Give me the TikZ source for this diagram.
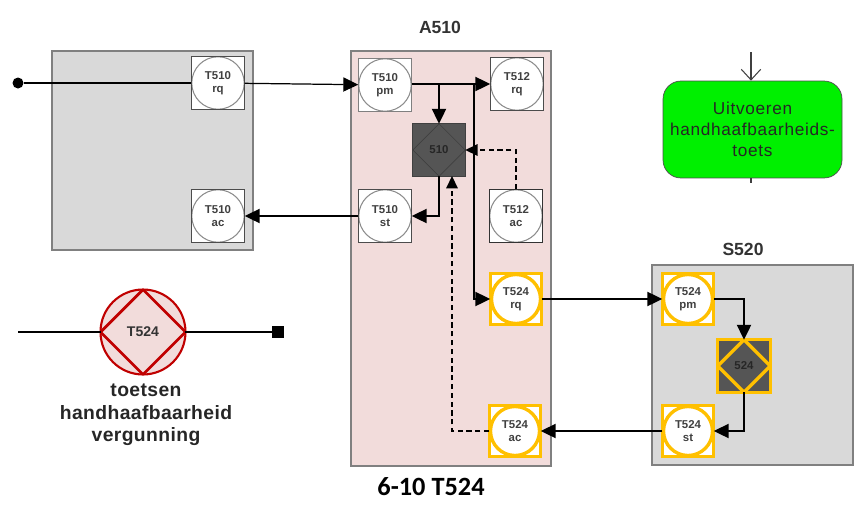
\documentclass[tikz,border=0pt]{standalone}
\usepackage{fontspec}
\setmainfont{Liberation Sans}
\newfontfamily\titlefont{Carlito}
\newfontfamily\spacedfont[LetterSpace=4]{Liberation Sans}
\newfontfamily\spacedbold[LetterSpace=2]{Liberation Sans Bold}
\usetikzlibrary{arrows.meta}
\definecolor{panelgray}{HTML}{D9D9D9}
\definecolor{panelpink}{HTML}{F2DCDB}
\definecolor{gold}{HTML}{FFC000}
\definecolor{darkred}{HTML}{C00000}
\definecolor{blockgray}{HTML}{555555}
\definecolor{brightgreen}{HTML}{00F000}
\tikzset{
    panel/.style={draw=gray,line width=0.6pt,inner sep=0pt,outer sep=0pt},
    ttrans/.style={draw=#1,fill=white,line width=0.7pt,minimum size=1.07cm,inner sep=0pt,outer sep=0pt,
        align=center,text=black!75,font=\bfseries\fontsize{6.5}{7.4}\selectfont,
        path picture={\draw[black!45,line width=0.6pt] (path picture bounding box.center) circle (0.525cm);}},
    tgold/.style={draw=gold,fill=white,line width=1.9pt,minimum size=1.03cm,inner sep=0pt,outer sep=0pt,
        align=center,text=black!75,font=\bfseries\fontsize{6.5}{7.4}\selectfont,
        path picture={\draw[gold,line width=1.9pt] (path picture bounding box.center) circle (0.49cm);}},
    tblock/.style={draw=#1,fill=blockgray,minimum size=1.05cm,inner sep=0pt,outer sep=0pt,
        text=black!85,font=\bfseries\fontsize{6.5}{7.4}\selectfont,
        path picture={\draw[#1] (path picture bounding box.north) -- (path picture bounding box.east)
            -- (path picture bounding box.south) -- (path picture bounding box.west) -- cycle;}},
    flow/.style={line width=1.1pt,black,-{Triangle[length=8.5pt,width=8pt]}},
    wait/.style={line width=0.9pt,black,dash pattern=on 3pt off 2pt,-{Triangle[length=7pt,width=6.5pt]}},
}
\begin{document}
\begin{tikzpicture}[x=0.02cm,y=-0.02cm]
    \useasboundingbox (0,0) rectangle (857,507);
    % panels
    \draw[panel,fill=panelgray] (52,51) rectangle (253,250);
    \draw[panel,fill=panelpink] (351,51) rectangle (551,466);
    \draw[panel,fill=panelgray] (652,265) rectangle (853,465);
    \node[font=\bfseries\fontsize{10}{12}\selectfont,text=black!80] (a510) at (440,27) {A510};
    \node[font=\bfseries\fontsize{10}{12}\selectfont,text=black!80] (s520) at (743,249) {S520};
    % transactions
    \node[ttrans=black!70] (t510rq) at (218,83) {T510\\rq};
    \node[ttrans=black!70] (t510ac) at (218,216) {T510\\ac};
    \node[ttrans=black!50] (t510pm) at (385,85) {T510\\pm};
    \node[ttrans=black!70] (t510st) at (385,216) {T510\\st};
    \node[ttrans=black!70] (t512rq) at (517,84) {T512\\rq};
    \node[ttrans=black!80] (t512ac) at (516,216) {T512\\ac};
    \node[tgold] (t524rq) at (516,299) {T524\\rq};
    \node[tgold] (t524ac) at (515,431) {T524\\ac};
    \node[tgold] (t524pm) at (688,299) {T524\\pm};
    \node[tgold] (t524st) at (688,431) {T524\\st};
    \node[tblock=black!75] (b510) at (439,150) {510};
    \node[tblock=gold,line width=1.9pt] (b524) at (744,366) {524};
    % flows
    \node[circle,fill=black,minimum size=0.22cm,inner sep=0pt] (start) at (18,83) {};
    \draw[line width=0.9pt] (start) -- (t510rq);
    \draw[flow,line width=0.7pt] (t510rq) -- (t510pm);
    \draw[flow] (t510pm.east |- t512rq) -- (t512rq);
    \coordinate (split1) at (439,84);
    \coordinate (split2) at (474,84);
    \draw[flow] (split1) -- (b510);
    \draw[flow] (split2) |- (t524rq);
    \draw[flow] (b510.south) |- (t510st);
    \draw[flow] (t510st) -- (t510ac);
    \draw[wait] (t512ac.north) |- (b510);
    \coordinate (acin) at (452,176);
    \coordinate (acturn) at (452,431);
    \draw[wait] (t524ac) -- (acturn) -- (acin);
    \draw[flow] (t524rq) -- (t524pm);
    \draw[flow] (t524pm) -| (b524);
    \draw[flow] (b524) |- (t524st);
    \draw[flow] (t524st) -- (t524ac);
    % legend symbol
    \node[circle,draw=darkred,fill=panelpink,line width=1.2pt,minimum size=1.7cm,inner sep=0pt,outer sep=0pt,
        text=black!80,font=\bfseries\fontsize{8}{9}\selectfont,
        path picture={\draw[darkred,line width=1.6pt] (path picture bounding box.north) -- (path picture bounding box.east)
            -- (path picture bounding box.south) -- (path picture bounding box.west) -- cycle;}]
        (t524) at (143,332) {T524};
    \coordinate (legin) at (18,332);
    \node[rectangle,fill=black,minimum size=0.24cm,inner sep=0pt] (legend) at (278,332) {};
    \draw[line width=1.1pt] (legin) -- (t524);
    \draw[line width=1.1pt] (t524) -- (legend);
    \node[align=center,font=\spacedbold\fontsize{11}{12.8}\selectfont,text=black!85] (t524name) at (146,415) {toetsen\\handhaafbaarheid\\vergunning};
    % green process
    \node[draw=black!70,fill=brightgreen,rounded corners=0.36cm,minimum width=3.58cm,minimum height=1.94cm,inner sep=0pt,
        align=center,font=\spacedfont\fontsize{9.8}{12}\selectfont,text=black!85] (uitvoeren) at (752.5,129.5)
        {Uitvoeren\\handhaafbaarheids-\\toets};
    \coordinate (grin) at (751,52);
    \coordinate (grout) at (751,183);
    \draw[line width=0.6pt,black!75,-{Straight Barb[length=6pt,width=11pt]}] (grin) -- (grin |- uitvoeren.north);
    \draw[line width=0.6pt,black!75] (grout |- uitvoeren.south) -- (grout);
    % caption
    \node[font=\titlefont\bfseries\fontsize{15}{18}\selectfont] (caption) at (431,487) {6-10 T524};
\end{tikzpicture}
\end{document}
